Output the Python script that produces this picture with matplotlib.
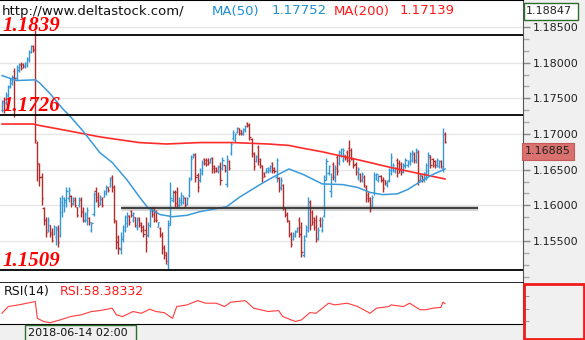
import numpy as np
import matplotlib.pyplot as plt
from matplotlib.collections import LineCollection
from matplotlib.patches import Rectangle
from matplotlib.transforms import blended_transform_factory
from matplotlib.ticker import MultipleLocator, FixedLocator, FormatStrFormatter

# EUR/USD hourly bars (open, high, low, close)
opens = [
    1.1733, 1.1746, 1.1743, 1.1754, 1.1767, 1.1772, 1.1788, 1.1778, 1.1790, 1.1798,
    1.1798, 1.1795, 1.1797, 1.1804, 1.1815, 1.1823, 1.1819, 1.1688, 1.1658, 1.1640,
    1.1596, 1.1580, 1.1565, 1.1572, 1.1563, 1.1560, 1.1555, 1.1568, 1.1558, 1.1590,
    1.1600, 1.1605, 1.1610, 1.1613, 1.1603, 1.1608, 1.1597,
    1.1600, 1.1608, 1.1592, 1.1578, 1.1580, 1.1582, 1.1566, 1.1588, 1.1620, 1.1612,
    1.1603, 1.1609, 1.1612, 1.1617, 1.1625, 1.1627, 1.1640, 1.1626, 1.1578, 1.1555,
    1.1538, 1.1553, 1.1566, 1.1575, 1.1585, 1.1592, 1.1580, 1.1583, 1.1569, 1.1582,
    1.1575, 1.1570, 1.1566, 1.1558, 1.1572, 1.1596, 1.1594,
    1.1590, 1.1570, 1.1568, 1.1560, 1.1542, 1.1534, 1.1518, 1.1575, 1.1608, 1.1619,
    1.1618, 1.1600, 1.1604, 1.1604, 1.1610, 1.1602, 1.1614, 1.1638, 1.1668, 1.1671,
    1.1642, 1.1635, 1.1646, 1.1665, 1.1664, 1.1664, 1.1661, 1.1666, 1.1655, 1.1653,
    1.1648, 1.1655, 1.1652, 1.1656,
    1.1630, 1.1662, 1.1673, 1.1694, 1.1691, 1.1703, 1.1708, 1.1705, 1.1700, 1.1705,
    1.1716, 1.1713, 1.1693, 1.1673, 1.1662, 1.1682, 1.1665, 1.1655, 1.1646, 1.1647,
    1.1648, 1.1649, 1.1659, 1.1653, 1.1640, 1.1638, 1.1625, 1.1628, 1.1596, 1.1588,
    1.1578, 1.1560, 1.1553, 1.1557, 1.1563,
    1.1580, 1.1570, 1.1530, 1.1557, 1.1565, 1.1604, 1.1590, 1.1582, 1.1580, 1.1554,
    1.1580, 1.1566, 1.1585, 1.1640, 1.1645, 1.1620, 1.1658, 1.1636, 1.1668, 1.1660,
    1.1670, 1.1664, 1.1670, 1.1675, 1.1680, 1.1678, 1.1665, 1.1658, 1.1640, 1.1644,
    1.1636, 1.1640, 1.1626, 1.1615, 1.1610, 1.1600, 1.1618, 1.1638,
    1.1635, 1.1641, 1.1636, 1.1635, 1.1628, 1.1635, 1.1646, 1.1649, 1.1648, 1.1664,
    1.1660, 1.1658, 1.1648, 1.1655, 1.1656, 1.1660, 1.1664, 1.1672, 1.1663, 1.1675,
    1.1635, 1.1641, 1.1635, 1.1640, 1.1648, 1.1668, 1.1665, 1.1662, 1.1656, 1.1655,
    1.1662, 1.1652, 1.1700,
]
highs = [
    1.1748, 1.1752, 1.1759, 1.1769, 1.1779, 1.1783, 1.1793, 1.1797, 1.1800, 1.1801,
    1.1800, 1.1801, 1.1808, 1.1818, 1.1825, 1.1825, 1.1846, 1.1690, 1.1660, 1.1646,
    1.1598, 1.1584, 1.1584, 1.1573, 1.1568, 1.1573, 1.1571, 1.1573, 1.1612, 1.1615,
    1.1611, 1.1625, 1.1626, 1.1615, 1.1612, 1.1611, 1.1598,
    1.1612, 1.1611, 1.1598, 1.1591, 1.1598, 1.1583, 1.1577, 1.1619, 1.1625, 1.1618,
    1.1615, 1.1611, 1.1622, 1.1629, 1.1626, 1.1640, 1.1643, 1.1629, 1.1580, 1.1559,
    1.1562, 1.1573, 1.1587, 1.1590, 1.1587, 1.1594, 1.1591, 1.1584, 1.1583, 1.1584,
    1.1577, 1.1573, 1.1583, 1.1577, 1.1597, 1.1598, 1.1597,
    1.1594, 1.1577, 1.1569, 1.1563, 1.1545, 1.1535, 1.1580, 1.1632, 1.1622, 1.1622,
    1.1625, 1.1611, 1.1618, 1.1614, 1.1611, 1.1612, 1.1640, 1.1671, 1.1674, 1.1674,
    1.1646, 1.1653, 1.1664, 1.1667, 1.1666, 1.1667, 1.1667, 1.1668, 1.1657, 1.1654,
    1.1656, 1.1661, 1.1668, 1.1657,
    1.1671, 1.1664, 1.1689, 1.1706, 1.1702, 1.1710, 1.1709, 1.1706, 1.1709, 1.1713,
    1.1717, 1.1716, 1.1695, 1.1675, 1.1671, 1.1685, 1.1667, 1.1657, 1.1647, 1.1653,
    1.1654, 1.1657, 1.1661, 1.1654, 1.1667, 1.1640, 1.1639, 1.1630, 1.1598, 1.1590,
    1.1580, 1.1562, 1.1562, 1.1566, 1.1570,
    1.1584, 1.1577, 1.1559, 1.1573, 1.1612, 1.1608, 1.1594, 1.1584, 1.1587, 1.1569,
    1.1583, 1.1583, 1.1643, 1.1667, 1.1657, 1.1646, 1.1661, 1.1657, 1.1671, 1.1678,
    1.1681, 1.1681, 1.1671, 1.1678, 1.1692, 1.1681, 1.1667, 1.1661, 1.1654, 1.1646,
    1.1647, 1.1643, 1.1628, 1.1618, 1.1612, 1.1615, 1.1647, 1.1646,
    1.1643, 1.1643, 1.1639, 1.1636, 1.1636, 1.1653, 1.1674, 1.1660, 1.1654, 1.1667,
    1.1664, 1.1661, 1.1660, 1.1667, 1.1664, 1.1675, 1.1678, 1.1675, 1.1681, 1.1678,
    1.1646, 1.1643, 1.1647, 1.1660, 1.1675, 1.1671, 1.1667, 1.1664, 1.1667, 1.1664,
    1.1664, 1.1709, 1.1703,
]
lows = [
    1.1731, 1.1729, 1.1741, 1.1752, 1.1765, 1.1769, 1.1724, 1.1776, 1.1787, 1.1790,
    1.1793, 1.1793, 1.1794, 1.1801, 1.1814, 1.1815, 1.1688, 1.1634, 1.1627, 1.1601,
    1.1573, 1.1555, 1.1563, 1.1555, 1.1549, 1.1559, 1.1545, 1.1542, 1.1555, 1.1584,
    1.1591, 1.1598, 1.1604, 1.1598, 1.1601, 1.1598, 1.1584,
    1.1598, 1.1584, 1.1577, 1.1576, 1.1573, 1.1573, 1.1563, 1.1585, 1.1605, 1.1597,
    1.1601, 1.1597, 1.1611, 1.1615, 1.1619, 1.1625, 1.1618, 1.1575, 1.1538, 1.1531,
    1.1531, 1.1549, 1.1562, 1.1569, 1.1573, 1.1583, 1.1577, 1.1570, 1.1566, 1.1570,
    1.1563, 1.1555, 1.1535, 1.1555, 1.1569, 1.1584, 1.1576,
    1.1576, 1.1569, 1.1555, 1.1531, 1.1525, 1.1517, 1.1509, 1.1573, 1.1605, 1.1598,
    1.1597, 1.1598, 1.1601, 1.1602, 1.1598, 1.1601, 1.1612, 1.1636, 1.1667, 1.1633,
    1.1618, 1.1633, 1.1643, 1.1657, 1.1655, 1.1657, 1.1660, 1.1646, 1.1646, 1.1647,
    1.1646, 1.1629, 1.1650, 1.1647,
    1.1626, 1.1650, 1.1671, 1.1692, 1.1689, 1.1702, 1.1699, 1.1699, 1.1699, 1.1703,
    1.1710, 1.1692, 1.1668, 1.1650, 1.1661, 1.1657, 1.1653, 1.1633, 1.1639, 1.1646,
    1.1646, 1.1647, 1.1646, 1.1646, 1.1632, 1.1619, 1.1622, 1.1594, 1.1583, 1.1576,
    1.1555, 1.1541, 1.1552, 1.1555, 1.1562,
    1.1555, 1.1527, 1.1527, 1.1555, 1.1562, 1.1566, 1.1573, 1.1566, 1.1549, 1.1552,
    1.1569, 1.1563, 1.1583, 1.1636, 1.1643, 1.1611, 1.1636, 1.1633, 1.1643, 1.1657,
    1.1668, 1.1661, 1.1664, 1.1661, 1.1657, 1.1664, 1.1653, 1.1643, 1.1636, 1.1633,
    1.1633, 1.1625, 1.1605, 1.1604, 1.1591, 1.1598, 1.1615, 1.1636,
    1.1633, 1.1632, 1.1619, 1.1629, 1.1626, 1.1633, 1.1643, 1.1647, 1.1646, 1.1640,
    1.1646, 1.1643, 1.1646, 1.1653, 1.1654, 1.1657, 1.1661, 1.1660, 1.1660, 1.1629,
    1.1633, 1.1632, 1.1633, 1.1636, 1.1643, 1.1653, 1.1654, 1.1653, 1.1654, 1.1653,
    1.1653, 1.1647, 1.1688,
]
closes = [
    1.1744, 1.1735, 1.1755, 1.1766, 1.1776, 1.1780, 1.1778, 1.1794, 1.1797, 1.1792,
    1.1795, 1.1800, 1.1806, 1.1815, 1.1823, 1.1818, 1.1692, 1.1660, 1.1640, 1.1610,
    1.1580, 1.1563, 1.1580, 1.1560, 1.1552, 1.1570, 1.1566, 1.1548, 1.1605, 1.1610,
    1.1608, 1.1620, 1.1622, 1.1602, 1.1610, 1.1600, 1.1587,
    1.1609, 1.1590, 1.1580, 1.1588, 1.1594, 1.1576, 1.1575, 1.1616, 1.1608, 1.1600,
    1.1612, 1.1600, 1.1620, 1.1626, 1.1621, 1.1637, 1.1625, 1.1580, 1.1548, 1.1540,
    1.1556, 1.1569, 1.1583, 1.1587, 1.1576, 1.1586, 1.1589, 1.1573, 1.1580, 1.1572,
    1.1566, 1.1560, 1.1548, 1.1572, 1.1592, 1.1588, 1.1580,
    1.1580, 1.1576, 1.1558, 1.1540, 1.1530, 1.1522, 1.1572, 1.1610, 1.1618, 1.1603,
    1.1600, 1.1608, 1.1615, 1.1612, 1.1601, 1.1610, 1.1636, 1.1665, 1.1672, 1.1640,
    1.1625, 1.1650, 1.1660, 1.1659, 1.1658, 1.1660, 1.1666, 1.1652, 1.1648, 1.1649,
    1.1654, 1.1636, 1.1664, 1.1650,
    1.1665, 1.1653, 1.1686, 1.1703, 1.1700, 1.1709, 1.1701, 1.1701, 1.1707, 1.1711,
    1.1712, 1.1696, 1.1672, 1.1655, 1.1669, 1.1662, 1.1656, 1.1640, 1.1641, 1.1652,
    1.1652, 1.1655, 1.1649, 1.1648, 1.1663, 1.1624, 1.1636, 1.1598, 1.1586, 1.1580,
    1.1560, 1.1546, 1.1560, 1.1564, 1.1568,
    1.1560, 1.1535, 1.1552, 1.1570, 1.1605, 1.1572, 1.1576, 1.1570, 1.1553, 1.1566,
    1.1572, 1.1580, 1.1635, 1.1662, 1.1655, 1.1640, 1.1640, 1.1653, 1.1648, 1.1675,
    1.1679, 1.1678, 1.1666, 1.1664, 1.1662, 1.1667, 1.1656, 1.1647, 1.1651, 1.1636,
    1.1644, 1.1628, 1.1610, 1.1607, 1.1596, 1.1612, 1.1642, 1.1644,
    1.1641, 1.1635, 1.1624, 1.1631, 1.1634, 1.1650, 1.1668, 1.1657, 1.1652, 1.1645,
    1.1650, 1.1647, 1.1657, 1.1664, 1.1662, 1.1672, 1.1675, 1.1663, 1.1678, 1.1635,
    1.1643, 1.1635, 1.1645, 1.1657, 1.1671, 1.1656, 1.1657, 1.1656, 1.1664, 1.1662,
    1.1655, 1.1700, 1.16885,
]

# moving averages, read at bar indices
ma50_idx = [0, 7, 16, 18, 23, 29, 33, 39, 47, 53, 60, 66, 70, 76, 82, 89, 95, 108, 114, 124,
            130, 138, 145, 154, 164, 171, 177, 183, 190, 195, 201, 207, 213]
ma50_val = [1.1782, 1.1775, 1.1776, 1.1772, 1.1757, 1.1736, 1.1724, 1.1704, 1.1674, 1.1660,
            1.1636, 1.1612, 1.1597, 1.1587, 1.1584, 1.1586, 1.1591, 1.1598, 1.1611, 1.1629,
            1.1639, 1.1651, 1.1643, 1.1630, 1.1629, 1.1625, 1.1618, 1.1615, 1.1616, 1.1622,
            1.1633, 1.1643, 1.1651]
ma200_idx = [0, 15, 18, 31, 47, 66, 79, 95, 111, 128, 138, 143, 154, 171, 187, 203, 213]
ma200_val = [1.1714, 1.1714, 1.1712, 1.1705, 1.1696, 1.1688, 1.1686, 1.1688, 1.1688, 1.1686,
             1.1684, 1.1681, 1.1675, 1.1664, 1.1653, 1.1643, 1.1637]

# RSI(14)
rsi_idx = [0, 3, 8, 12, 16, 17, 20, 23, 28, 33, 38, 43, 47, 53, 55, 58, 63, 67, 71, 74,
           78, 82, 84, 89, 94, 98, 103, 107, 110, 117, 121, 128, 133, 135, 141, 144, 148, 151, 157, 160,
           166, 171, 177, 180, 186, 187, 193, 196, 201, 204, 207, 211, 212, 213]
rsi_val = [43, 53.7, 56.3, 59, 61.6, 35, 30, 28, 32.5, 37.8, 40.5, 45.8, 47.3, 51, 40.5, 37.8, 45.8, 43, 49.5, 45.8,
           44, 35, 53.7, 56.3, 63, 59, 59, 53.7, 60.6, 63, 51, 45.8, 47.3, 37.8, 30, 32.5, 44, 43, 59, 56.3,
           59, 53.7, 43, 51, 53.7, 56.3, 53.7, 59, 48.6, 48.6, 51, 52.3, 60.6, 58.38332]

levels = [1.1839, 1.1726, 1.1509]
support_level = 1.1596
support_span = (57, 229)
price_ticks = [1.155, 1.160, 1.165, 1.170, 1.175, 1.180, 1.185]
ma50_last, ma200_last = 1.17752, 1.17139
top_price = 1.18847
rsi_last = 58.38332
date_label = '2018-06-14 02:00'

UP = '#3597d3'
DOWN = '#b32b2b'
W, H = 585, 340


def box(x0, y0, x1, y1):
    return [x0 / W, 1 - y1 / H, (x1 - x0) / W, (y1 - y0) / H]


fig = plt.figure(figsize=(5.85, 3.4), dpi=100)
fig.patch.set_facecolor('#f0f0f0')

ax = fig.add_axes(box(0, 0, 523, 283))
rsi_ax = fig.add_axes(box(0, 283, 523, 324))

# --- price panel ---
x = np.arange(len(opens))
segs, cols = [], []
for i in x:
    c = UP if closes[i] >= opens[i] else DOWN
    segs += [[(i, lows[i]), (i, highs[i])],
             [(i - 0.55, opens[i]), (i, opens[i])],
             [(i, closes[i]), (i + 0.55, closes[i])]]
    cols += [c, c, c]
ax.add_collection(LineCollection(segs, colors=cols, linewidths=1.0, zorder=3))

ax.plot(ma200_idx, ma200_val, color='#ff2a2a', lw=1.2, zorder=4)
ax.plot(ma50_idx, ma50_val, color='#3a9ad9', lw=1.1, zorder=4)

ax.hlines(support_level, *support_span, color='#d0d0d0', lw=3.5, zorder=2)
ax.hlines(support_level, *support_span, color='#333333', lw=1.3, zorder=5)

lab_tr = blended_transform_factory(ax.transAxes, ax.transData)
for lv in levels:
    ax.axhline(lv, color='black', lw=1.3, zorder=5)
    ax.annotate(f'{lv:.4f}', (3 / 523, lv), xycoords=lab_tr, xytext=(0, 3),
                textcoords='offset points', va='baseline', ha='left',
                color='red', fontsize=15, fontweight='bold', fontstyle='italic',
                family='Liberation Serif', zorder=6)

ax.set_xlim(-0.96, 250.5)
ax.set_ylim(1.1491, 1.1888)
ax.set_xticks([])
ax.yaxis.tick_right()
ax.yaxis.set_major_locator(FixedLocator(price_ticks))
ax.yaxis.set_minor_locator(MultipleLocator(0.005 / 3))
ax.yaxis.set_major_formatter(FormatStrFormatter('%.5f'))
ax.tick_params(axis='y', which='major', length=5, width=1, color='#888888',
               labelsize=8, pad=2, labelcolor='#222222')
ax.tick_params(axis='y', which='minor', length=4, width=1, color='#aaaaaa')
ax.grid(axis='y', which='major', color='#e6e6e6', lw=1, zorder=0)
ax.set_axisbelow(True)
ax.spines['left'].set_visible(False)
ax.spines['top'].set_color('black')
ax.spines['top'].set_linewidth(1.5)
ax.spines['right'].set_color('#555555')
ax.spines['bottom'].set_color('black')
ax.spines['bottom'].set_linewidth(1.2)

ax.text(2 / 523, 1 - 11 / 283, 'http://www.deltastock.com/', transform=ax.transAxes,
        va='center', ha='left', fontsize=9.5, color='#111111')
ax.text(212 / 523, 1 - 11 / 283, 'MA(50)', transform=ax.transAxes,
        va='center', fontsize=9.5, color='#1e8fd0')
ax.text(272 / 523, 1 - 11 / 283, f'{ma50_last:.5f}', transform=ax.transAxes,
        va='center', fontsize=9.5, color='#1e8fd0')
ax.text(334 / 523, 1 - 11 / 283, 'MA(200)', transform=ax.transAxes,
        va='center', fontsize=9.5, color='#ff1a1a')
ax.text(400 / 523, 1 - 11 / 283, f'{ma200_last:.5f}', transform=ax.transAxes,
        va='center', fontsize=9.5, color='#ff1a1a')

# last price tag on the axis, hanging just below the price
ax.annotate(f'{closes[-1]:.5f}', (1 + 2 / 523, closes[-1]), xycoords=lab_tr,
            xytext=(0, -3), textcoords='offset points',
            va='top', ha='left', fontsize=8, color='#222222', annotation_clip=False,
            bbox=dict(boxstyle='square,pad=0.3', fc='#d9716e', ec='#c45a5a', lw=0.8))

# --- RSI panel ---
rsi_ax.plot(rsi_idx, rsi_val, color='#ff3b3b', lw=0.8)
rsi_ax.set_xlim(-0.96, 250.5)
rsi_ax.set_ylim(26, 91)
rsi_ax.set_xticks([])
rsi_ax.yaxis.tick_right()
rsi_ax.set_yticks([30, 50, 70])
rsi_ax.tick_params(axis='y', length=4, color='#999999', labelright=False)
rsi_ax.spines['left'].set_visible(False)
rsi_ax.spines['top'].set_visible(False)
rsi_ax.spines['right'].set_color('#555555')
rsi_ax.spines['bottom'].set_color('black')
rsi_ax.text(4 / 523, 0.8, 'RSI(14)', transform=rsi_ax.transAxes,
            va='center', fontsize=9, color='#111111')
rsi_ax.text(60 / 523, 0.8, f'RSI:{rsi_last:.5f}', transform=rsi_ax.transAxes,
            va='center', fontsize=9, color='#ff1a1a')

# --- frame boxes around the panels ---
ov = fig.add_axes([0, 0, 1, 1], zorder=10)
ov.set_xlim(0, W)
ov.set_ylim(H, 0)
ov.axis('off')
ov.patch.set_alpha(0)
ov.add_patch(Rectangle((523.5, 2.5), 54, 17, fc='white', ec='#2d6e2d', lw=1))
ov.text(526, 11.5, f'{top_price:.5f}', va='center', ha='left', fontsize=8, color='#222222')
ov.add_patch(Rectangle((523.5, 284), 60, 55, fill=False, ec='#ee1c1c', lw=2))
ov.add_patch(Rectangle((24.5, 324.5), 111, 16, fc='#f0f0f0', ec='#2d6e2d', lw=1))
ov.text(28, 332.5, date_label, va='center', ha='left', fontsize=8, color='#111111')

fig.savefig('out.png', dpi=100, facecolor=fig.get_facecolor())
